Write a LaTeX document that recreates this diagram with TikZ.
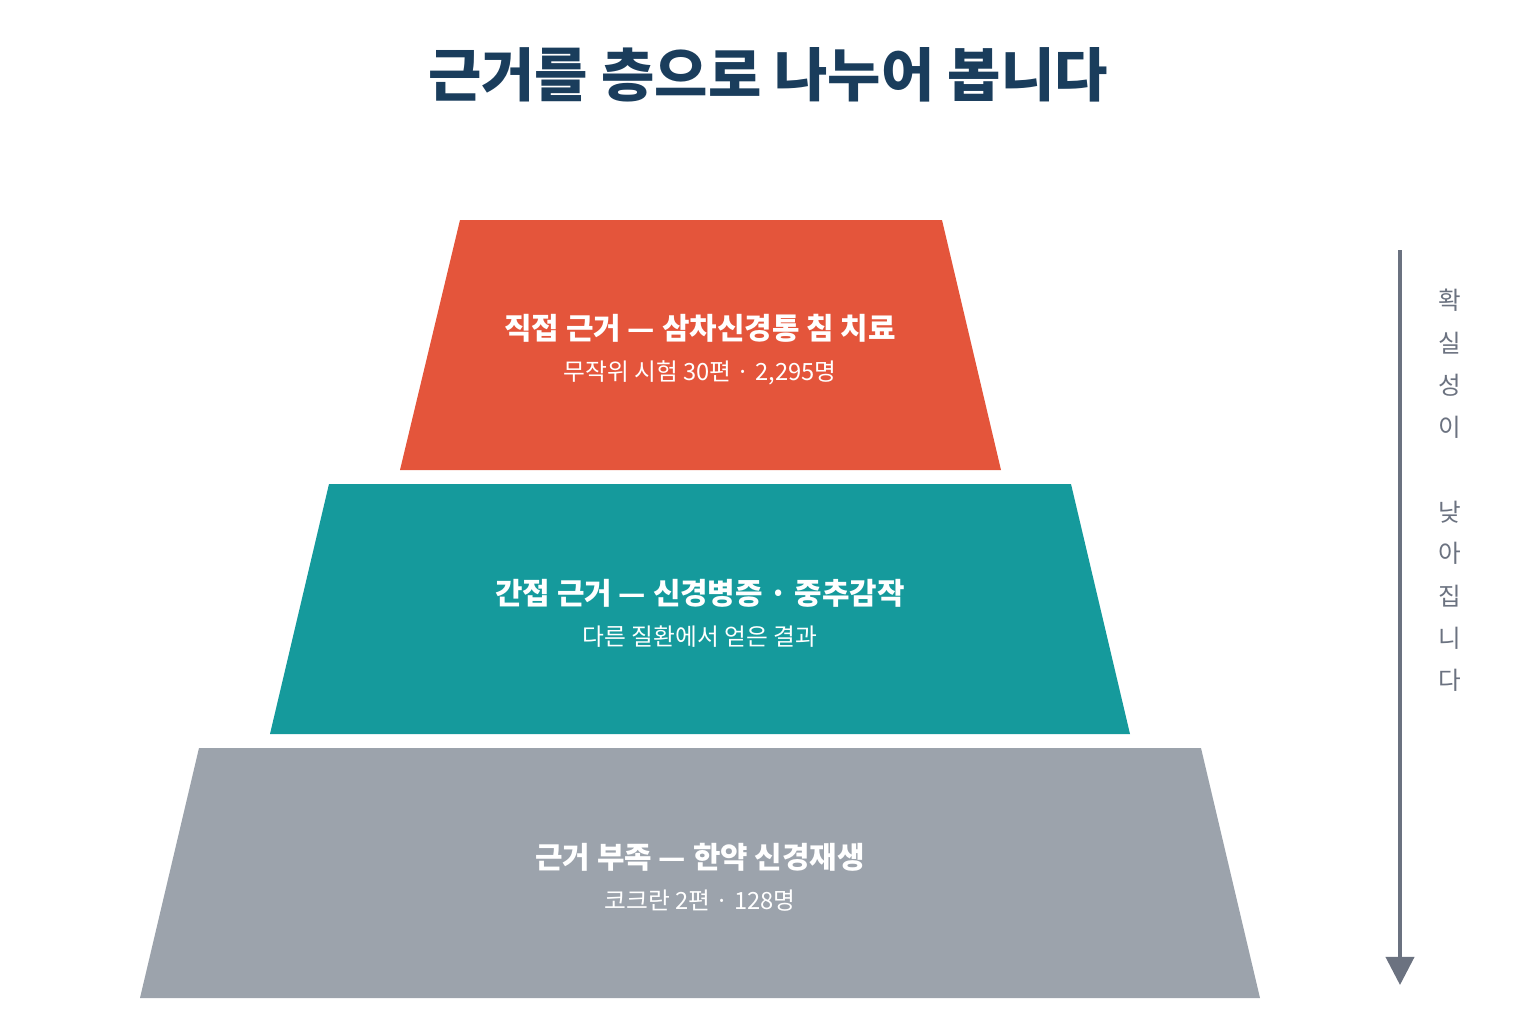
\documentclass[tikz,border=0pt]{standalone}
\usepackage{fontspec}
\usetikzlibrary{arrows.meta}
\setmainfont{Noto Sans CJK KR}
\definecolor{navy}{HTML}{1A3D5C}
\definecolor{direct}{HTML}{E4553B}
\definecolor{indirect}{HTML}{159A9C}
\definecolor{lacking}{HTML}{9CA3AC}
\definecolor{axisgray}{HTML}{6B7280}
\begin{document}
\begin{tikzpicture}[x=0.02cm,y=-0.02cm,
  head/.style={text=white,font=\fontsize{17}{20}\selectfont\bfseries},
  sub/.style={text=white,font=\fontsize{13.5}{16}\selectfont},
  side/.style={text=axisgray,font=\fontsize{14}{16}\selectfont}]

\useasboundingbox (0,0) rectangle (1536,1024);

\node[text=navy,font=\fontsize{33}{38}\selectfont\bfseries] (title) at (768,75) {근거를 층으로 나누어 봅니다};

% layers
\fill[direct] (460,220)--(942,220)--(1001,470)--(400,470)--cycle;
\fill[indirect] (329,484)--(1071,484)--(1130,734)--(270,734)--cycle;
\fill[lacking] (199,748)--(1201,748)--(1260,998)--(140,998)--cycle;

\node[head] (directhead) at (700,328) {직접 근거 — 삼차신경통 침 치료};
\node[sub] (directsub) at (700,373) {무작위 시험 30편 · 2,295명};
\node[head] (indirecthead) at (700,593) {간접 근거 — 신경병증 · 중추감작};
\node[sub] (indirectsub) at (700,637) {다른 질환에서 얻은 결과};
\node[head] (lackhead) at (700,857) {근거 부족 — 한약 신경재생};
\node[sub] (lacksub) at (700,901) {코크란 2편 · 128명};

% certainty axis
\coordinate (axtop) at (1400,250);
\coordinate (axbot) at (1400,985);
\draw[axisgray,line width=2.2pt,-{Triangle[length=16pt,width=16pt]}] (axtop)--(axbot);

\foreach \ch/\y in {확/300,실/343,성/385,이/427,낮/512,아/553,집/596,니/638,다/680}
  \node[side] at (1450,\y) {\ch};

\end{tikzpicture}
\end{document}
